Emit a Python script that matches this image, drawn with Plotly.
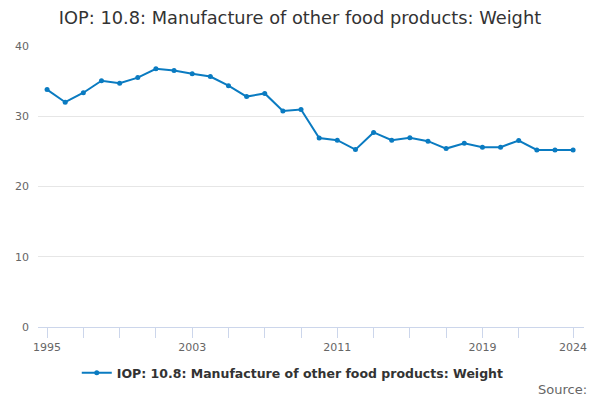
import plotly.graph_objects as go

# Yearly weight values
years = list(range(1995, 2025))
weight = [33.8, 32.0, 33.35, 35.05, 34.7, 35.5, 36.75, 36.5, 36.05, 35.65,
          34.35, 32.8, 33.25, 30.75, 30.95, 26.9, 26.6, 25.25, 27.7, 26.6,
          26.95, 26.45, 25.4, 26.15, 25.6, 25.6, 26.55, 25.2, 25.2, 25.2]

label_years = [1995, 2003, 2011, 2019, 2024]
tick_years = list(range(1995, 2023, 2)) + [2024]
tick_text = [str(y) if y in label_years else "" for y in tick_years]

series_name = "IOP: 10.8: Manufacture of other food products: Weight"
font = "DejaVu Sans"

fig = go.Figure()
fig.add_trace(go.Scatter(
    x=years, y=weight, name=series_name, mode="lines+markers",
    line=dict(color="#0a7bc1", width=2),
    marker=dict(color="#0a7bc1", size=5),
))

fig.update_layout(
    width=600, height=400,
    margin=dict(l=38, r=16, t=46, b=73, autoexpand=False),
    paper_bgcolor="white", plot_bgcolor="white",
    font=dict(family=font, color="#666666", size=11),
    title=dict(text=series_name, x=0.5, xanchor="center", y=0.955, yanchor="middle",
               font=dict(family=font, size=17.8, color="#333333")),
    showlegend=True,
    legend=dict(orientation="h", x=0.071, xanchor="left",
                y=-0.164, yanchor="middle",
                font=dict(family=font, size=12.5, color="#333333", weight="bold")),
    annotations=[dict(text="Source:", xref="paper", yref="paper", x=1.01, y=-0.224,
                      xanchor="right", yanchor="middle", showarrow=False,
                      font=dict(family=font, size=13, color="#666666"))],
)
fig.update_xaxes(
    range=[1994.5, 2024.6], tickvals=tick_years, ticktext=tick_text, tickangle=0,
    ticks="outside", ticklen=10, tickcolor="#ccd6eb", tickwidth=1,
    showgrid=False, showline=True, linecolor="#ccd6eb", linewidth=1,
    zeroline=False, tickfont=dict(size=11, color="#666666"),
)
fig.update_yaxes(
    range=[0, 40], tickvals=[0, 10, 20, 30, 40],
    showgrid=True, gridcolor="#e6e6e6", gridwidth=1,
    zeroline=False, showline=False, ticks="", ticklabelstandoff=8,
    tickfont=dict(size=11, color="#666666"),
)

# page body has a default 8px margin; drop it so the chart fills the window
fig.write_html("out.html", config={"displayModeBar": False},
               post_script="document.body.style.margin='0';")
